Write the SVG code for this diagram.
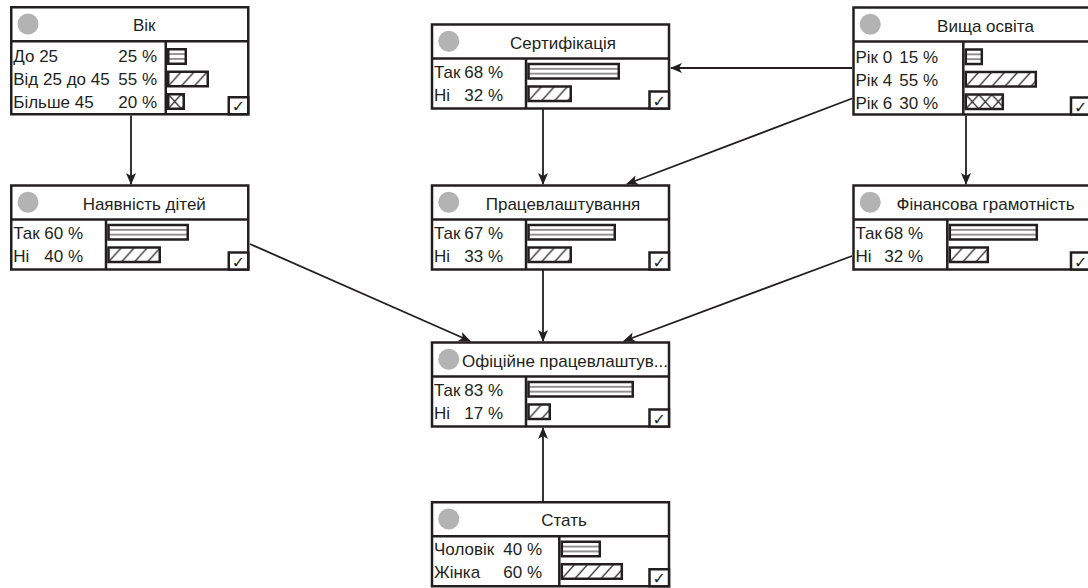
<svg xmlns="http://www.w3.org/2000/svg" width="1088" height="588" viewBox="0 0 1088 588">
<defs>
<style>
.box{fill:#fff;stroke:#231f20;stroke-width:2.5}
.ln{stroke:#231f20;stroke-width:2.5;fill:none}
.dot{fill:#b3b3b3}
.t{font-family:"Liberation Sans",Arial,sans-serif;font-size:17px;fill:#231f20}
.h{text-anchor:middle}
.p{text-anchor:end}
.bar{stroke:#231f20;stroke-width:2.5}
.hz{fill:url(#hz)}
.dg{fill:url(#dg)}
.cx{fill:url(#cx)}
.cb{fill:#fff;stroke:#231f20;stroke-width:2.5}
.ck{font-family:"DejaVu Sans",sans-serif;font-size:16px;text-anchor:middle;fill:#231f20}
.edge{stroke:#231f20;stroke-width:1.8;fill:none;marker-end:url(#arr)}
</style>
<pattern id="hz" patternUnits="userSpaceOnUse" width="10" height="14.5"><rect width="10" height="14.5" fill="#fff"/><path d="M0,4.8H10M0,9.7H10" stroke="#231f20" stroke-width="1"/></pattern>
<pattern id="dg" patternUnits="userSpaceOnUse" width="13" height="14.5"><rect width="13" height="14.5" fill="#fff"/><path d="M0,14.5L13,0" stroke="#231f20" stroke-width="1.2"/></pattern>
<pattern id="cx" patternUnits="userSpaceOnUse" width="13" height="14.5"><rect width="13" height="14.5" fill="#fff"/><path d="M0,0L13,14.5M13,0L0,14.5" stroke="#231f20" stroke-width="1.2"/></pattern>
<marker id="arr" markerUnits="userSpaceOnUse" markerWidth="12" markerHeight="10" refX="11" refY="5" orient="auto"><path d="M0,0L12,5L0,10L3,5Z" fill="#231f20"/></marker>
</defs>
<rect width="1088" height="588" fill="#fff"/>

<g id="connectors">
<path class="edge" d="M131,115.5V184"/>
<path class="edge" d="M852,68H671"/>
<path class="edge" d="M852,98.5L627,184"/>
<path class="edge" d="M543,109V184"/>
<path class="edge" d="M966,115.5V184"/>
<path class="edge" d="M250,244L470,341"/>
<path class="edge" d="M543,270V341"/>
<path class="edge" d="M852,256L624,341"/>
<path class="edge" d="M543,501V428"/>
</g>

<g id="node-vik" transform="translate(11.25,7.25)">
<rect class="box" x="0" y="0" width="237" height="107"/>
<path class="ln" d="M0,34H237M154.5,34V107"/>
<circle class="dot" cx="16.75" cy="16.75" r="10.5"/>
<text class="t h" x="133" y="24">Вік</text>
<text class="t" x="2" y="55">До 25</text><text class="t p" x="145.75" y="55">25 %</text>
<text class="t" x="2" y="78">Від 25 до 45</text><text class="t p" x="145.75" y="78">55 %</text>
<text class="t" x="2" y="101">Більше 45</text><text class="t p" x="145.75" y="101">20 %</text>
<g transform="translate(157,42)"><rect class="bar hz" width="17.5" height="14.5"/></g>
<g transform="translate(157,64.5)"><rect class="bar dg" width="39.5" height="14.5"/></g>
<g transform="translate(157,87)"><rect class="bar cx" width="15.5" height="14.5"/></g>
<rect class="cb" x="217.5" y="90" width="19.5" height="17"/>
<text class="ck" x="227.25" y="105">✓</text>
</g>

<g id="node-children" transform="translate(11.25,185.5)">
<rect class="box" x="0" y="0" width="237" height="84"/>
<path class="ln" d="M0,34H237M94.75,34V84"/>
<circle class="dot" cx="16.75" cy="16.75" r="10.5"/>
<text class="t h" x="133" y="24">Наявність дітей</text>
<text class="t" x="2" y="53">Так</text><text class="t p" x="71.75" y="53">60 %</text>
<text class="t" x="2" y="76">Ні</text><text class="t p" x="71.75" y="76">40 %</text>
<g transform="translate(97.25,39.5)"><rect class="bar hz" width="79.25" height="14.5"/></g>
<g transform="translate(97.25,62)"><rect class="bar dg" width="51.25" height="14.5"/></g>
<rect class="cb" x="217.5" y="67" width="19.5" height="17"/>
<text class="ck" x="227.25" y="82">✓</text>
</g>

<g id="node-cert" transform="translate(432,24.5)">
<rect class="box" x="0" y="0" width="237" height="84"/>
<path class="ln" d="M0,34H237M94,34V84"/>
<circle class="dot" cx="16.75" cy="16.75" r="10.5"/>
<text class="t h" x="131" y="24">Сертифікація</text>
<text class="t" x="2" y="53">Так</text><text class="t p" x="71" y="53">68 %</text>
<text class="t" x="2" y="76">Ні</text><text class="t p" x="71" y="76">32 %</text>
<g transform="translate(96.5,39.5)"><rect class="bar hz" width="90.25" height="14.5"/></g>
<g transform="translate(96.5,62)"><rect class="bar dg" width="42.25" height="14.5"/></g>
<rect class="cb" x="217.5" y="67" width="19.5" height="17"/>
<text class="ck" x="227.25" y="82">✓</text>
</g>

<g id="node-edu" transform="translate(853.5,7.5)">
<rect class="box" x="0" y="0" width="237" height="107"/>
<path class="ln" d="M0,34H237M109.8,34V107"/>
<circle class="dot" cx="16.75" cy="16.75" r="10.5"/>
<text class="t h" x="132" y="24">Вища освіта</text>
<text class="t" x="2" y="55">Рік 0</text><text class="t p" x="84.5" y="55">15 %</text>
<text class="t" x="2" y="78">Рік 4</text><text class="t p" x="84.5" y="78">55 %</text>
<text class="t" x="2" y="101">Рік 6</text><text class="t p" x="84.5" y="101">30 %</text>
<g transform="translate(112.3,42)"><rect class="bar hz" width="16" height="14.5"/></g>
<g transform="translate(112.3,64.5)"><rect class="bar dg" width="70" height="14.5"/></g>
<g transform="translate(112.3,87)"><rect class="bar cx" width="37" height="14.5"/></g>
<rect class="cb" x="217.5" y="90" width="19.5" height="17"/>
<text class="ck" x="227.25" y="105">✓</text>
</g>

<g id="node-job" transform="translate(432,185.5)">
<rect class="box" x="0" y="0" width="237" height="84"/>
<path class="ln" d="M0,34H237M94,34V84"/>
<circle class="dot" cx="16.75" cy="16.75" r="10.5"/>
<text class="t h" x="131" y="24">Працевлаштування</text>
<text class="t" x="2" y="53">Так</text><text class="t p" x="71" y="53">67 %</text>
<text class="t" x="2" y="76">Ні</text><text class="t p" x="71" y="76">33 %</text>
<g transform="translate(96.5,39.5)"><rect class="bar hz" width="86.25" height="14.5"/></g>
<g transform="translate(96.5,62)"><rect class="bar dg" width="42.25" height="14.5"/></g>
<rect class="cb" x="217.5" y="67" width="19.5" height="17"/>
<text class="ck" x="227.25" y="82">✓</text>
</g>

<g id="node-fin" transform="translate(853.5,185.5)">
<rect class="box" x="0" y="0" width="237" height="84"/>
<path class="ln" d="M0,34H237M93.8,34V84"/>
<circle class="dot" cx="16.75" cy="16.75" r="10.5"/>
<text class="t h" x="132" y="24">Фінансова грамотність</text>
<text class="t" x="2" y="53">Так</text><text class="t p" x="69.5" y="53">68 %</text>
<text class="t" x="2" y="76">Ні</text><text class="t p" x="69.5" y="76">32 %</text>
<g transform="translate(96.3,39.5)"><rect class="bar hz" width="87" height="14.5"/></g>
<g transform="translate(96.3,62)"><rect class="bar dg" width="38" height="14.5"/></g>
<rect class="cb" x="217.5" y="67" width="19.5" height="17"/>
<text class="ck" x="227.25" y="82">✓</text>
</g>

<g id="node-official" transform="translate(432,342.5)">
<rect class="box" x="0" y="0" width="237" height="84"/>
<path class="ln" d="M0,34H237M94,34V84"/>
<circle class="dot" cx="16.75" cy="16.75" r="10.5"/>
<text class="t" x="30" y="24" textLength="206" lengthAdjust="spacingAndGlyphs">Офіційне працевлаштув...</text>
<text class="t" x="2" y="53">Так</text><text class="t p" x="71" y="53">83 %</text>
<text class="t" x="2" y="76">Ні</text><text class="t p" x="71" y="76">17 %</text>
<g transform="translate(96.5,39.5)"><rect class="bar hz" width="104.25" height="14.5"/></g>
<g transform="translate(96.5,62)"><rect class="bar dg" width="21.25" height="14.5"/></g>
<rect class="cb" x="217.5" y="67" width="19.5" height="17"/>
<text class="ck" x="227.25" y="82">✓</text>
</g>

<g id="node-sex" transform="translate(432,502.25)">
<rect class="box" x="0" y="0" width="237" height="84"/>
<path class="ln" d="M0,34H237M127.3,34V84"/>
<circle class="dot" cx="16.75" cy="16.75" r="10.5"/>
<text class="t h" x="132" y="24">Стать</text>
<text class="t" x="2" y="53">Чоловік</text><text class="t p" x="110" y="53">40 %</text>
<text class="t" x="2" y="76">Жінка</text><text class="t p" x="110" y="76">60 %</text>
<g transform="translate(129.8,39.5)"><rect class="bar hz" width="38" height="14.5"/></g>
<g transform="translate(129.8,62)"><rect class="bar dg" width="60" height="14.5"/></g>
<rect class="cb" x="217.5" y="67" width="19.5" height="17"/>
<text class="ck" x="227.25" y="82">✓</text>
</g>
</svg>
